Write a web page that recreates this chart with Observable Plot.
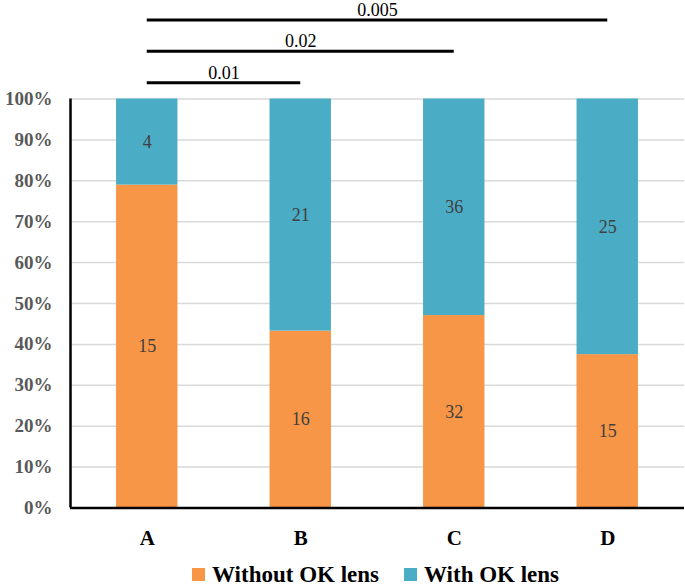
<!DOCTYPE html>
<html><head><meta charset="utf-8">
<script src="https://cdn.jsdelivr.net/npm/d3@7"></script>
<script src="https://cdn.jsdelivr.net/npm/@observablehq/plot@0.6"></script>
<style>
body{margin:0;background:#fff;overflow:hidden;}
#chart svg{display:block}
#legend{display:flex;align-items:center;height:23px;line-height:23px;padding-top:8px;padding-left:192px;font-family:"Liberation Serif",serif;font-weight:bold;font-size:23px;color:#000;}
.sw{width:13px;height:13px;margin-right:7px;display:inline-block}
.item{display:flex;align-items:center;margin-right:25px;line-height:23px}
</style></head><body>
<div id="chart"></div>
<div id="legend"></div>
<script>
const categories = ["A", "B", "C", "D"];
const withoutOK = [15, 16, 32, 15];
const withOK = [4, 21, 36, 25];
const seriesNames = ["Without OK lens", "With OK lens"];
const seriesColors = ["#F79646", "#4BACC6"];
const yTicks = [0, 0.1, 0.2, 0.3, 0.4, 0.5, 0.6, 0.7, 0.8, 0.9, 1.0];
const yTickLabels = ["0%", "10%", "20%", "30%", "40%", "50%", "60%", "70%", "80%", "90%", "100%"];
const compareFrom = ["A", "A", "A"];
const compareTo = ["B", "C", "D"];
const pValues = ["0.01", "0.02", "0.005"];

const serif = "Liberation Serif";
const segments = [];
categories.forEach((c, i) => {
  const total = withoutOK[i] + withOK[i];
  const p = withoutOK[i] / total;
  segments.push({i, series: seriesNames[0], value: withoutOK[i], y1: 0, y2: p});
  segments.push({i, series: seriesNames[1], value: withOK[i], y1: p, y2: 1});
});
const brackets = pValues.map((p, k) => ({
  a: categories.indexOf(compareFrom[k]),
  b: categories.indexOf(compareTo[k]),
  p,
  level: 1.04 + k * 0.0765
}));
const halfBar = 0.2;

const chart = Plot.plot({
  width: 685,
  height: 555,
  marginLeft: 70,
  marginRight: 1,
  marginTop: 98.5,
  marginBottom: 47.5,
  style: {fontFamily: serif, fontSize: "18px", background: "#fff", overflow: "visible"},
  x: {domain: [-0.5, categories.length - 0.5], label: null},
  y: {domain: [0, 1], label: null},
  color: {domain: seriesNames, range: seriesColors},
  marks: [
    Plot.gridY(yTicks, {stroke: "#d9d9d9", strokeOpacity: 1, strokeWidth: 1.5}),
    Plot.rect(segments, {x1: d => d.i - halfBar, x2: d => d.i + halfBar, y1: "y1", y2: "y2", fill: "series"}),
    Plot.text(segments, {x: "i", y: d => (d.y1 + d.y2) / 2, text: d => String(d.value), fill: "#404040", fontSize: 18, fontFamily: serif}),
    Plot.axisY({ticks: yTicks, tickFormat: (d, k) => yTickLabels[k], tickSize: 0, tickPadding: 18, fontSize: 19, fontWeight: "bold", fontFamily: serif, color: "#595959"}),
    Plot.axisX({ticks: categories.map((c, i) => i), tickFormat: i => categories[i], tickSize: 0, tickPadding: 22, fontSize: 21, fontWeight: "bold", fontFamily: serif, color: "#000"}),
    Plot.ruleX([-0.5], {y1: 0, y2: 1, stroke: "#000", strokeWidth: 2.5}),
    Plot.ruleY([0], {stroke: "#000", strokeWidth: 2.5}),
    Plot.ruleY(brackets, {y: "level", x1: "a", x2: "b", stroke: "#000", strokeWidth: 3}),
    Plot.text(brackets, {x: d => (d.a + d.b) / 2, y: "level", text: "p", dy: -4, lineAnchor: "bottom", fill: "#000", fontSize: 18, fontFamily: serif})
  ]
});
document.getElementById("chart").appendChild(chart);

const legend = document.getElementById("legend");
seriesNames.forEach((n, k) => {
  const item = document.createElement("span");
  item.className = "item";
  const sw = document.createElement("span");
  sw.className = "sw";
  sw.style.background = seriesColors[k];
  item.appendChild(sw);
  item.appendChild(document.createTextNode(n));
  legend.appendChild(item);
});
</script>
</body></html>
